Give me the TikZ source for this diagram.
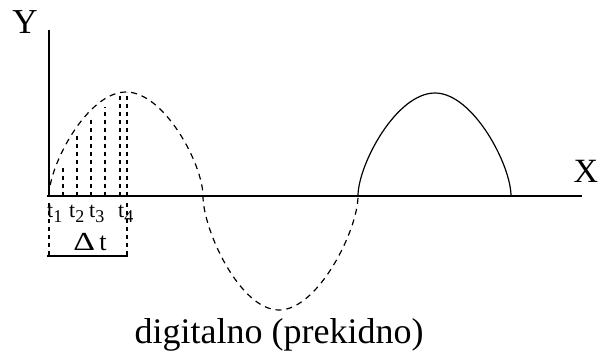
\documentclass[tikz,border=0pt]{standalone}
\usepackage{fontspec}
\setmainfont{Liberation Serif}
\begin{document}
\begin{tikzpicture}[x=1pt,y=-1pt,
  axis/.style={line width=1.8pt},
  wave/.style={line width=1.2pt},
  wavedash/.style={wave, dash pattern=on 6pt off 5pt},
  gridline/.style={line width=1.2pt, dash pattern=on 4pt off 4pt},
  lbl/.style={inner sep=0pt, anchor=base, font=\fontsize{35}{40}\selectfont},
  tlbl/.style={inner sep=0pt, anchor=base west, font=\fontsize{22}{24}\selectfont}]
\useasboundingbox (0,0) rectangle (600,351);
% axes
\coordinate (O) at (49,196);
\coordinate (Ytop) at (49,30);
\coordinate (Xstart) at (47,196);
\coordinate (Xend) at (582,196);
\draw[axis] (O) -- (Ytop);
\draw[axis] (Xstart) -- (Xend);
\node[lbl] (ylab) at (25,33) {Y};
\node[lbl, font=\fontsize{34}{40}\selectfont] (xlab) at (586,182) {X};
% waves
\draw[wavedash] (O) .. controls (49,165) and (87.5,92) .. (126,92)
  .. controls (164.5,92) and (203,165) .. (203,196)
  .. controls (203,230) and (240,310) .. (279,310)
  .. controls (318,310) and (358,230) .. (358,196);
\draw[wave] (358,196) .. controls (358,165) and (396,93) .. (435,93)
  .. controls (473,93) and (511,165) .. (511,196);
% sample lines
\foreach \x/\y in {63/165, 77/135, 91/120, 105/107, 120/95, 127/92}
  \draw[gridline] (\x,196) -- (\x,\y);
% t labels
\node[tlbl] (t1) at (47,217) {t\raisebox{-5pt}{\fontsize{18}{18}\selectfont 1}};
\node[tlbl] (t2) at (69,217) {t\raisebox{-5pt}{\fontsize{18}{18}\selectfont 2}};
\node[tlbl] (t3) at (89,217) {t\raisebox{-5pt}{\fontsize{18}{18}\selectfont 3}};
\node[tlbl] (t4) at (118,217) {t\raisebox{-5pt}{\fontsize{18}{18}\selectfont 4}};
% delta t bracket
\coordinate (bl) at (49,256);
\coordinate (br) at (127,256);
\draw[gridline] (49,203) -- (bl);
\draw[gridline] (127,203) -- (br);
\draw[axis] ([xshift=-2pt]bl) -- ([xshift=1pt]br);
\node[lbl, font=\fontsize{26}{30}\selectfont] (dt) at (90,250) {\scalebox{1.3}[1]{Δ}\,t};
% caption
\node[lbl, font=\fontsize{36}{40}\selectfont] (cap) at (279,343) {digitalno (prekidno)};
\end{tikzpicture}
\end{document}
